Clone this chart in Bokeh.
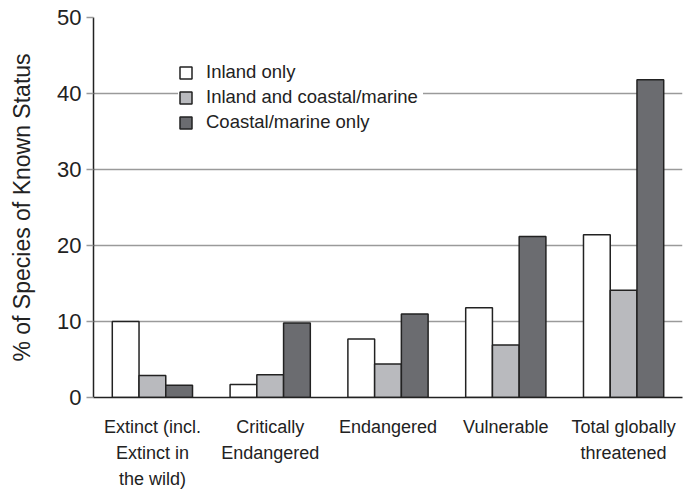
from bokeh.plotting import figure
from bokeh.models import FactorRange, Range1d, Legend, LegendItem, ColumnDataSource
from bokeh.transform import dodge
from bokeh.embed import file_html
from bokeh.resources import INLINE

categories = ["Extinct (incl.\nExtinct in\nthe wild)", "Critically\nEndangered", "Endangered",
              "Vulnerable", "Total globally\nthreatened"]
series_names = ["Inland only", "Inland and coastal/marine", "Coastal/marine only"]
inland_only = [10.0, 1.7, 7.7, 11.8, 21.4]
inland_coastal = [2.9, 3.0, 4.4, 6.9, 14.1]
coastal_only = [1.6, 9.8, 11.0, 21.2, 41.8]
y_ticks = [0, 10, 20, 30, 40, 50]

colors = ["#ffffff", "#b9babe", "#6b6c70"]
FONT = "Liberation Sans"
TXT = "#222222"

src = ColumnDataSource(dict(cat=categories, a=inland_only, b=inland_coastal, c=coastal_only))

p = figure(width=697, height=491, x_range=FactorRange(factors=categories, range_padding=0),
           y_range=Range1d(0, 50), output_backend="svg", toolbar_location=None,
           min_border_left=93, min_border_right=15, min_border_top=17, min_border_bottom=93)
p.outline_line_color = None
p.background_fill_color = "white"

bw = 0.227
rs = []
for i, (col, c) in enumerate(zip(["a", "b", "c"], colors)):
    r = p.vbar(x=dodge("cat", (i - 1) * bw, range=p.x_range), top=col, width=bw, bottom=0,
               source=src, fill_color=c, line_color="#222222", line_width=1.5)
    rs.append(r)

# axes
p.xgrid.grid_line_color = None
p.ygrid.grid_line_color = "#9a9a9a"
p.ygrid.grid_line_width = 1.3
p.yaxis.ticker = y_ticks
p.yaxis.axis_line_color = "#222222"
p.yaxis.axis_line_width = 1.5
p.yaxis.major_tick_line_color = "#9a9a9a"
p.yaxis.major_tick_line_width = 1.3
p.yaxis.major_tick_out = 7
p.yaxis.major_tick_in = 0
p.yaxis.minor_tick_line_color = None
p.yaxis.major_label_text_font = FONT
p.yaxis.major_label_text_font_size = "22px"
p.yaxis.major_label_text_color = TXT
p.yaxis.major_label_standoff = 5
p.yaxis.axis_label = "% of Species of Known Status"
p.yaxis.axis_label_text_font = FONT
p.yaxis.axis_label_text_font_size = "23px"
p.yaxis.axis_label_text_font_style = "normal"
p.yaxis.axis_label_text_color = TXT
p.yaxis.axis_label_standoff = 19

p.xaxis.axis_line_color = "#222222"
p.xaxis.axis_line_width = 1.5
p.xaxis.major_tick_line_color = None
p.xaxis.minor_tick_line_color = None
p.xaxis.major_label_text_font = FONT
p.xaxis.major_label_text_font_size = "18px"
p.xaxis.major_label_text_color = TXT
p.xaxis.major_label_text_line_height = 1.3
p.xaxis.major_label_standoff = 13

legend = Legend(items=[LegendItem(label=n, renderers=[r]) for n, r in zip(series_names, rs)],
                location=(85, 264), orientation="vertical")
legend.border_line_color = None
legend.background_fill_color = "white"
legend.background_fill_alpha = 1.0
legend.label_text_font = FONT
legend.label_text_font_size = "18.5px"
legend.label_text_color = TXT
legend.glyph_width = 15
legend.glyph_height = 15
legend.label_height = 22
legend.label_width = 217
legend.spacing = 3
legend.padding = 8
legend.margin = 0
legend.label_standoff = 13
p.add_layout(legend, "center")

open("out.html", "w").write(file_html(p, INLINE))
